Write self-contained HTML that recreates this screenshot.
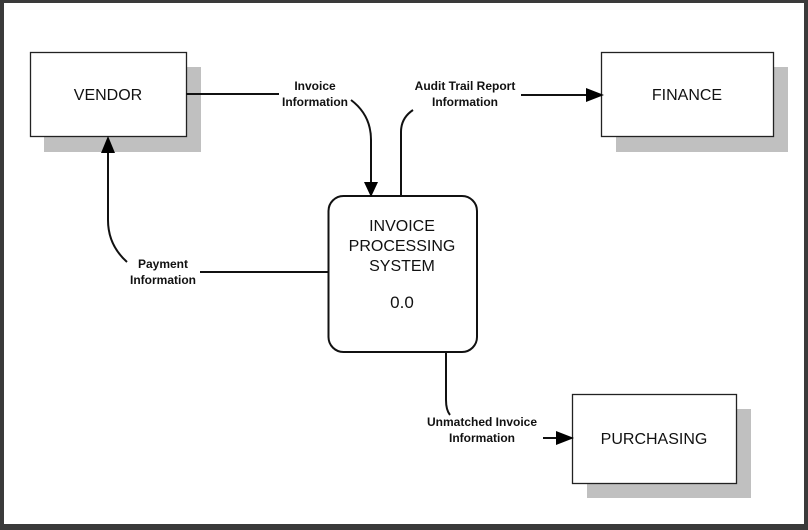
<!DOCTYPE html>
<html><head><meta charset="utf-8"><style>
html,body{margin:0;padding:0;background:#3a3a3a;}
svg{display:block;}
text{font-family:"Liberation Sans",Arial,sans-serif;fill:#111;}
.lbl{font-size:12px;font-weight:bold;text-anchor:middle;}
.box{font-size:16px;text-anchor:middle;}
</style></head><body>
<svg width="808" height="530" viewBox="0 0 808 530" xmlns="http://www.w3.org/2000/svg">
<rect x="0" y="0" width="808" height="530" fill="#3a3a3a"/>
<rect x="4" y="3" width="800" height="521" fill="#fff"/>
<!-- shadows -->
<rect x="44" y="67" width="157" height="85" fill="#c0c0c0"/>
<rect x="616" y="67" width="172" height="85" fill="#c0c0c0"/>
<rect x="587" y="409" width="164" height="89" fill="#c0c0c0"/>
<!-- boxes -->
<rect x="30.5" y="52.5" width="156" height="84" fill="#fff" stroke="#222" stroke-width="1.3"/>
<rect x="601.5" y="52.5" width="172" height="84" fill="#fff" stroke="#222" stroke-width="1.3"/>
<rect x="572.5" y="394.5" width="164" height="89" fill="#fff" stroke="#222" stroke-width="1.3"/>
<rect x="328.5" y="196" width="148.5" height="156" rx="15" fill="#fff" stroke="#111" stroke-width="2"/>
<text class="box" x="108" y="100">VENDOR</text>
<text class="box" x="687" y="100">FINANCE</text>
<text class="box" x="654" y="444">PURCHASING</text>
<text class="box" x="402" y="231">INVOICE</text>
<text class="box" x="402" y="251">PROCESSING</text>
<text class="box" x="402" y="271">SYSTEM</text>
<text class="box" x="402" y="308" style="font-size:17px">0.0</text>
<!-- connectors -->
<g fill="none" stroke="#111" stroke-width="2">
<path d="M186 94 H279"/>
<path d="M351 100 Q371 115 371 140 V184"/>
<path d="M401 196 V132 Q401 118 413 110"/>
<path d="M521 95 H588"/>
<path d="M328 272 H200"/>
<path d="M127 262 Q108 245 108 220 V150"/>
<path d="M446 352 V400 Q446 410 450 415"/>
<path d="M543 438 H560"/>
</g>
<g fill="#000">
<polygon points="364,182 378,182 371,197"/>
<polygon points="586,88 586,102 604,95"/>
<polygon points="101,153 115,153 108,136"/>
<polygon points="556,431 556,445 574,438"/>
</g>
<text class="lbl" x="315" y="90">Invoice</text>
<text class="lbl" x="315" y="106">Information</text>
<text class="lbl" x="465" y="90">Audit Trail Report</text>
<text class="lbl" x="465" y="106">Information</text>
<text class="lbl" x="163" y="268">Payment</text>
<text class="lbl" x="163" y="284">Information</text>
<text class="lbl" x="482" y="426">Unmatched Invoice</text>
<text class="lbl" x="482" y="442">Information</text>
</svg>
</body></html>
